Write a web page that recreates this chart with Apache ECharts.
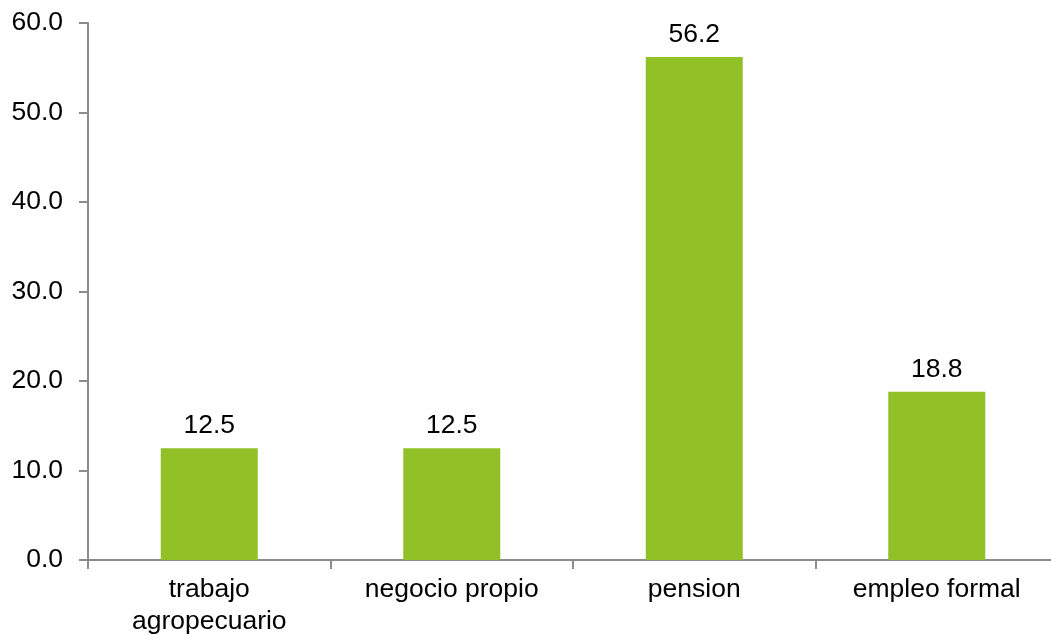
<!DOCTYPE html>
<html>
<head>
<meta charset="utf-8">
<script src="https://cdn.jsdelivr.net/npm/echarts@6/dist/echarts.min.js"></script>
<style>
html,body{margin:0;padding:0;background:#fff;}
#chart{width:1051px;height:636px;}
</style>
</head>
<body>
<div id="chart"></div>
<script>
const categories = ['trabajo\nagropecuario', 'negocio propio', 'pension', 'empleo formal'];
const values = [12.5, 12.5, 56.2, 18.8];
const yTicks = {min: 0, max: 60, interval: 10};

const chart = echarts.init(document.getElementById('chart'));
const axisColor = '#8c8c8c';
const font = 'Liberation Sans, Arial, sans-serif';
const fs = 26.5;
chart.setOption({
  animation: false,
  grid: {left: 88, width: 970, top: 23, height: 537, containLabel: false, outerBoundsMode: 'none'},
  xAxis: {
    type: 'category',
    data: categories,
    axisLine: {lineStyle: {color: axisColor, width: 2}},
    axisTick: {show: true, length: 9, lineStyle: {color: axisColor, width: 2}},
    axisLabel: {color: '#000', fontSize: fs, fontFamily: font, margin: 14, lineHeight: 32, interval: 0}
  },
  yAxis: {
    type: 'value',
    min: yTicks.min, max: yTicks.max, interval: yTicks.interval,
    axisLine: {show: true, lineStyle: {color: axisColor, width: 2}},
    axisTick: {show: true, length: 9, lineStyle: {color: axisColor, width: 2}},
    splitLine: {show: false},
    axisLabel: {color: '#000', fontSize: fs, fontFamily: font, margin: 25,
      formatter: v => v.toFixed(1)}
  },
  series: [{
    type: 'bar',
    data: values,
    barWidth: 97,
    itemStyle: {color: '#92c027'},
    label: {show: true, position: 'top', distance: 9, color: '#000', fontSize: fs, fontFamily: font,
      formatter: p => p.value.toFixed(1)}
  }]
});
</script>
</body>
</html>
